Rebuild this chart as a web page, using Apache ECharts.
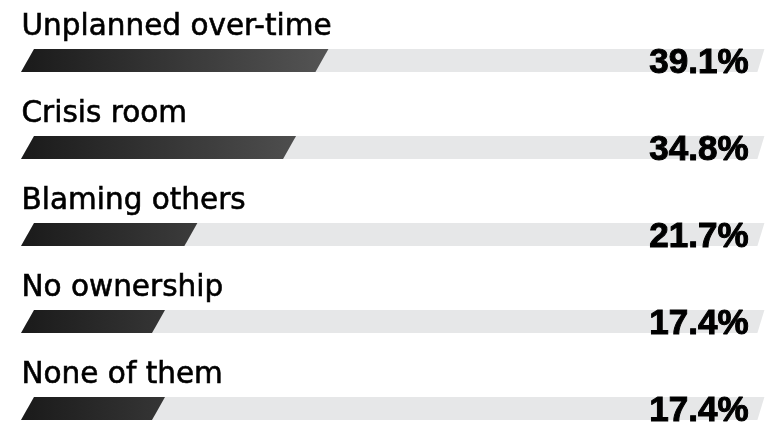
<!DOCTYPE html>
<html><head><meta charset="utf-8">
<script src="https://cdn.jsdelivr.net/npm/echarts@6/dist/echarts.min.js"></script>
<style>html,body{margin:0;padding:0;background:#fff}#c{width:767px;height:424px}</style>
</head><body><div id="c"></div>
<script>
const categories = ['Unplanned over-time', 'Crisis room', 'Blaming others', 'No ownership', 'None of them'];
const values = [39.1, 34.8, 21.7, 17.4, 17.4];
const trackEnd = 97;

const chart = echarts.init(document.getElementById('c'), null, {renderer: 'canvas'});
const H = 23, SKEW = 13, TRACK_SKEW = 7;
chart.setOption({
  animation: false,
  grid: {left: 34, top: 60.5, width: 730.4, height: 348},
  xAxis: {type: 'value', min: 0, max: trackEnd, show: false},
  yAxis: {type: 'value', min: 0, max: 4, inverse: true, show: false},
  series: [{
    type: 'custom',
    clip: false,
    data: values.map((v, i) => [v, i]),
    encode: {x: 0, y: 1},
    renderItem: function (params, api) {
      const v = api.value(0), idx = api.value(1);
      const p0 = api.coord([0, idx]);
      const p1 = api.coord([v, idx]);
      const pt = api.coord([trackEnd, idx]);
      const yt = p0[1] - H / 2, yb = p0[1] + H / 2;
      const x0 = p0[0];
      const poly = (xe, s) => [[x0, yt], [xe, yt], [xe - s, yb], [x0 - SKEW, yb]];
      return {
        type: 'group',
        children: [
          {type: 'polygon', shape: {points: poly(pt[0], TRACK_SKEW)}, style: {fill: '#e6e7e8'}},
          {type: 'polygon', shape: {points: poly(p1[0], SKEW)}, style: {fill: {
            type: 'linear', global: true, x: 20, y: 0, x2: 787, y2: 0,
            colorStops: [{offset: 0, color: '#1a1a1a'}, {offset: 1, color: '#ababab'}]
          }}},
          {type: 'text', x: 21.5, y: yt - 22, style: {
            text: categories[idx], fill: '#000', stroke: '#000', lineWidth: 0.6,
            fontFamily: 'DejaVu Sans', fontSize: 29.5, fontWeight: 'normal',
            align: 'left', verticalAlign: 'middle'
          }},
          {type: 'text', x: 748.5, y: p0[1] + 2.5, style: {
            text: v.toFixed(1) + '%', fill: '#000', stroke: '#000', lineWidth: 1,
            fontFamily: 'Liberation Sans', fontSize: 35, fontWeight: 'bold',
            align: 'right', verticalAlign: 'middle'
          }}
        ]
      };
    }
  }]
});
</script></body></html>
